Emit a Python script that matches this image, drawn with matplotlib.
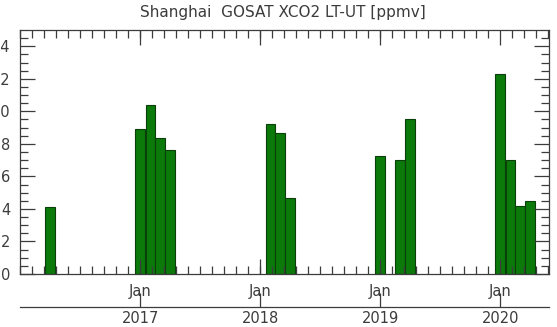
import numpy as np
import matplotlib
matplotlib.use('Agg')
import matplotlib.pyplot as plt
import matplotlib.dates as mdates
from datetime import date

# monthly LT-UT XCO2 differences over Shanghai
meses = ['2016-04', '2017-01', '2017-02', '2017-03', '2017-04',
         '2018-02', '2018-03', '2018-04',
         '2019-01', '2019-03', '2019-04',
         '2020-01', '2020-02', '2020-03', '2020-04']
valores = [4.1, 8.9, 10.4, 8.35, 7.6,
           9.25, 8.65, 4.7,
           7.25, 7.0, 9.5,
           12.3, 7.0, 4.15, 4.5]
anios = [2017, 2018, 2019, 2020]

gris = '#3c3c3c'
verde = '#0b7a0b'
borde = '#0a3f0a'

x = mdates.date2num([date(int(m[:4]), int(m[5:]), 1) for m in meses])
x_ini = mdates.date2num(date(2016, 1, 1))
x_fin = mdates.date2num(date(2020, 5, 28))
x_ene = mdates.date2num([date(a, 1, 1) for a in anios])

fig = plt.figure(figsize=(5.57, 3.27), dpi=100)
ax = fig.add_axes([20 / 557, 1 - 274 / 327, 529 / 557, 244 / 327])

ax.bar(x, valores, width=30, align='center', color=verde,
       edgecolor=borde, linewidth=0.8)

ax.set_xlim(x_ini, x_fin)
ax.set_ylim(0, 15)

ax.set_xticks(x_ene)
ax.set_xticklabels(['Jan'] * len(anios))
ax.set_xticks(np.arange(x_ini, x_fin, 365.25 / 10), minor=True)
ax.set_yticks(np.arange(0, 15, 2))
ax.set_yticks(np.arange(0, 15, 0.5), minor=True)

ax.tick_params(which='both', direction='in', top=True, right=True,
               color=gris, labelcolor=gris, labelsize=10.5, width=0.9)
ax.tick_params(which='major', length=11, pad=7)
ax.tick_params(which='minor', length=6)
for s in ax.spines.values():
    s.set_color(gris)
    s.set_linewidth(0.9)

# year axis under the month labels
sec = ax.secondary_xaxis(-0.135)
sec.set_xticks(x_ene)
sec.set_xticklabels([str(a) for a in anios])
sec.tick_params(direction='in', length=10, width=0.9, pad=3,
                color=gris, labelcolor=gris, labelsize=10.5)
sec.spines['bottom'].set_color(gris)
sec.spines['bottom'].set_linewidth(0.9)

fig.text(0.508, 1 - 13 / 327, 'Shanghai  GOSAT XCO2 LT-UT [ppmv]',
         ha='center', va='center', fontsize=11, color=gris)

fig.savefig('out.png', dpi=100)
